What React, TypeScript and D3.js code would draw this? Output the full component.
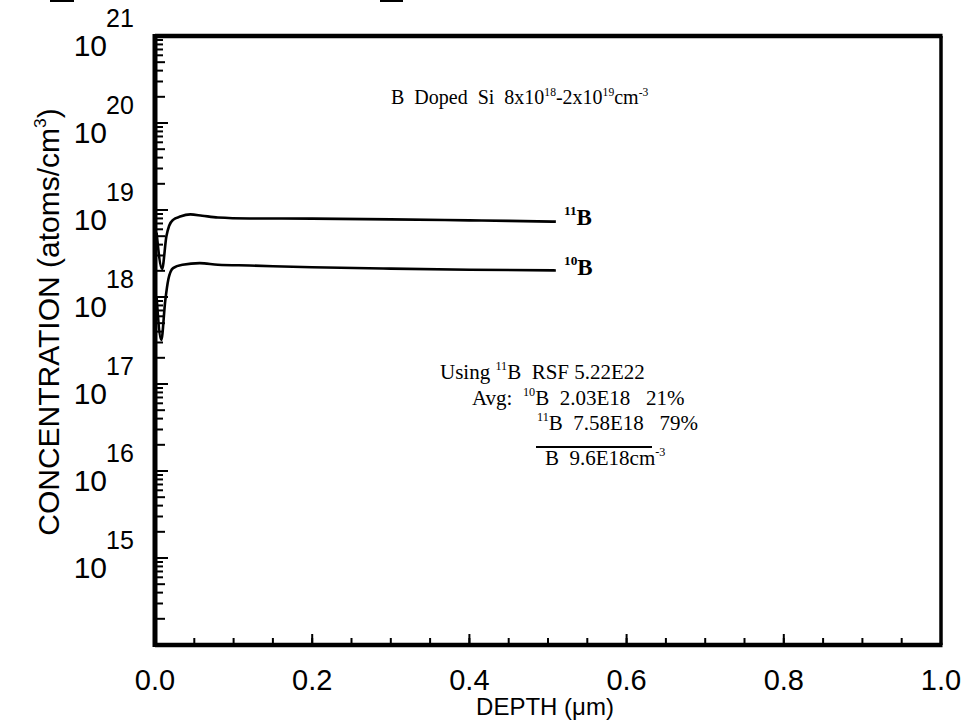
import React from "react";
import * as d3 from "d3";

// SIMS depth profile, B doped Si
const profile11B: [number, number][] = [
  [0.002, 5.5e18], [0.009, 2.1e18], [0.0145, 5.0e18], [0.018, 6.6e18],
  [0.023, 7.7e18], [0.032, 8.4e18], [0.045, 8.9e18], [0.06, 8.6e18],
  [0.08, 8.2e18], [0.12, 8.0e18], [0.2, 7.95e18], [0.3, 7.8e18],
  [0.4, 7.6e18], [0.45, 7.5e18], [0.51, 7.35e18],
];
const profile10B: [number, number][] = [
  [0.002, 1.0e18], [0.008, 3.2e17], [0.013, 9.0e17], [0.017, 1.6e18],
  [0.023, 2.15e18], [0.035, 2.35e18], [0.057, 2.45e18], [0.08, 2.35e18],
  [0.12, 2.3e18], [0.2, 2.2e18], [0.3, 2.12e18], [0.4, 2.06e18],
  [0.51, 2.02e18],
];
const depthDomain = [0, 1];
const concDomain = [1e14, 1e21];
const decadeLabels = [15, 16, 17, 18, 19, 20, 21];
const depthLabels = ["0.0", "0.2", "0.4", "0.6", "0.8", "1.0"];

const W = 961;
const H = 721;
const left = 155, right = 941, top = 36, bottom = 645;
const sans = "'Liberation Sans', Arial, sans-serif";
const serif = "'Liberation Serif', 'Times New Roman', serif";

type Part = { t: string; sup?: boolean };

// texte avec exposants (dy relatif pour garder un seul bloc de texte)
const SupText = ({ x, y, parts, size, family = serif, weight = "normal", anchor = "start" }: {
  x: number; y: number; parts: Part[]; size: number; family?: string; weight?: string; anchor?: string;
}) => {
  const shift = size * 0.42;
  let up = false;
  return (
    <text x={x} y={y} fontSize={size} fontFamily={family} fontWeight={weight} textAnchor={anchor}
      style={{ whiteSpace: "pre" }} fill="#000">
      {parts.map((p, i) => {
        let dy = 0;
        if (p.sup && !up) { dy = -shift; up = true; }
        else if (!p.sup && up) { dy = shift; up = false; }
        return (
          <tspan key={i} dy={dy} fontSize={p.sup ? size * 0.58 : size}>{p.t}</tspan>
        );
      })}
    </text>
  );
};

export default function App() {
  const x = d3.scaleLinear().domain(depthDomain).range([left, right]);
  const y = d3.scaleLog().domain(concDomain).range([bottom, top]);

  const line = d3
    .line<[number, number]>()
    .x((d) => x(d[0]))
    .y((d) => y(d[1]))
    .curve(d3.curveMonotoneX);

  const yTicks = y.ticks();
  const xMinor = x.ticks(20);
  const xMajor = x.ticks(5);

  return (
    <svg width={W} height={H} style={{ position: "absolute", left: 0, top: 0, background: "#fff" }}>
      <rect width={W} height={H} fill="#fff" />
      {/* bouts de l'image précédente */}
      <rect x={50} y={0} width={24} height={2} fill="#000" />
      <rect x={380} y={0} width={23} height={2} fill="#000" />

      {/* cadre */}
      <line x1={left} x2={left} y1={top - 2} y2={bottom + 2} stroke="#000" strokeWidth={5} />
      <line x1={left} x2={right + 1.5} y1={top} y2={top} stroke="#000" strokeWidth={4.5} />
      <line x1={left} x2={right + 1.5} y1={bottom} y2={bottom} stroke="#000" strokeWidth={4.5} />
      <line x1={right} x2={right} y1={top} y2={bottom} stroke="#000" strokeWidth={3.5} />

      {/* graduations Y */}
      {yTicks.map((v, i) => {
        const e = Math.log10(v);
        const m = Math.round(v / Math.pow(10, Math.floor(e + 1e-9)));
        const len = Math.abs(e - Math.round(e)) < 1e-6 ? 13 : m === 2 || m === 5 ? 10 : 8;
        return (
          <line key={i} x1={left} x2={left + len} y1={y(v)} y2={y(v)} stroke="#000" strokeWidth={2} />
        );
      })}
      {decadeLabels.map((e) => (
        <g key={e}>
          <text x={107} y={y(Math.pow(10, e)) + 20} fontSize={30} fontFamily={sans} textAnchor="end">10</text>
          <text x={106} y={y(Math.pow(10, e)) - 9} fontSize={25} fontFamily={sans}>{e}</text>
        </g>
      ))}

      {/* graduations X */}
      {xMinor.map((v, i) => (
        <line key={i} x1={x(v)} x2={x(v)} y1={bottom} y2={bottom - 7} stroke="#000" strokeWidth={2} />
      ))}
      {xMajor.map((v, i) => (
        <line key={"M" + i} x1={x(v)} x2={x(v)} y1={bottom} y2={bottom - 11} stroke="#000" strokeWidth={2} />
      ))}
      {xMajor.map((v, i) => (
        <text key={"L" + i} x={x(v)} y={690} fontSize={29} fontFamily={sans} textAnchor="middle">
          {depthLabels[i]}
        </text>
      ))}

      {/* titres d'axes */}
      <text x={545} y={715} fontSize={24} fontFamily={sans} textAnchor="middle">DEPTH (μm)</text>
      <g transform="translate(59,322) rotate(-90)">
        <SupText x={0} y={0} size={30} family={sans} anchor="middle"
          parts={[{ t: "CONCENTRATION (atoms/cm" }, { t: "3", sup: true }, { t: ")" }]} />
      </g>

      {/* profils */}
      <path d={line(profile11B) || ""} fill="none" stroke="#000" strokeWidth={2.6} strokeLinejoin="round" />
      <path d={line(profile10B) || ""} fill="none" stroke="#000" strokeWidth={2.6} strokeLinejoin="round" />
      <SupText x={564} y={225} size={23} weight="bold" parts={[{ t: "11", sup: true }, { t: "B" }]} />
      <SupText x={564} y={275} size={23} weight="bold" parts={[{ t: "10", sup: true }, { t: "B" }]} />

      {/* annotations */}
      <SupText x={391} y={104} size={20}
        parts={[{ t: "B  Doped  Si  8x10" }, { t: "18", sup: true }, { t: "-2x10" }, { t: "19", sup: true }, { t: "cm" }, { t: "-3", sup: true }]} />
      <SupText x={440} y={379} size={21}
        parts={[{ t: "Using " }, { t: "11", sup: true }, { t: "B  RSF 5.22E22" }]} />
      <SupText x={472} y={405} size={21}
        parts={[{ t: "Avg:  " }, { t: "10", sup: true }, { t: "B  2.03E18   21%" }]} />
      <SupText x={537} y={430} size={21}
        parts={[{ t: "11", sup: true }, { t: "B  7.58E18   79%" }]} />
      <line x1={536} x2={652} y1={447} y2={447} stroke="#000" strokeWidth={2} />
      <SupText x={545} y={465} size={21}
        parts={[{ t: "B  9.6E18cm" }, { t: "-3", sup: true }]} />
    </svg>
  );
}
